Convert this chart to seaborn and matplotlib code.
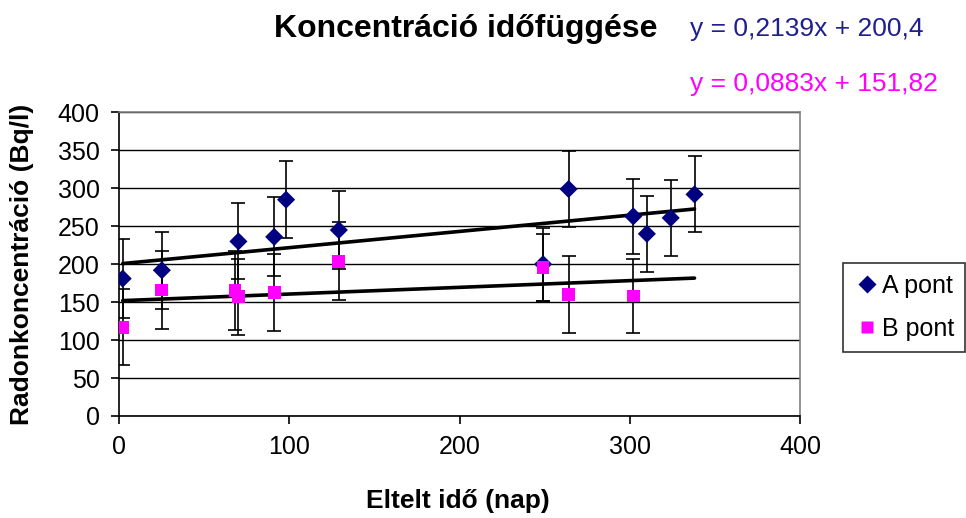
import numpy as np
import pandas as pd
import matplotlib
matplotlib.use("Agg")
import matplotlib.pyplot as plt
import seaborn as sns

# -----------------------------
# DATA
# -----------------------------
a_days = [2, 25, 70, 91, 98, 129, 249, 264, 302, 310, 324, 338]
a_conc = [181, 192, 230, 236, 285, 245, 200, 299, 263, 240, 261, 292]
a_err = [52, 51, 50, 52, 51, 52, 48, 50, 49, 50, 50, 50]

b_days = [2, 25, 68, 70, 91, 129, 249, 264, 302]
b_conc = [117, 166, 165, 157, 163, 204, 196, 160, 158]
b_err = [50, 51, 52, 50, 51, 51, 44, 51, 49]

# trendline coefficients shown on the chart
a_slope, a_icpt = 0.2139, 200.4
b_slope, b_icpt = 0.0883, 151.82

series_names = ["A pont", "B pont"]
series_colors = {"A pont": "#000080", "B pont": "#FF00FF"}
series_markers = {"A pont": "D", "B pont": "s"}

df = pd.concat([
    pd.DataFrame({"nap": a_days, "conc": a_conc, "err": a_err, "pont": "A pont"}),
    pd.DataFrame({"nap": b_days, "conc": b_conc, "err": b_err, "pont": "B pont"}),
], ignore_index=True)

# -----------------------------
# PLOT
# -----------------------------
sns.set_style("white")
plt.rcParams["font.family"] = ["Liberation Sans", "DejaVu Sans"]
plt.rcParams["text.color"] = "black"
plt.rcParams["axes.labelcolor"] = "black"
plt.rcParams["xtick.color"] = "black"
plt.rcParams["ytick.color"] = "black"

fig = plt.figure(figsize=(9.66, 5.18), dpi=100)
ax = fig.add_axes([0.1235, 0.197, 0.7047, 0.586])

# error bars first, then markers on top
for name in series_names:
    sub = df[df["pont"] == name]
    ax.errorbar(sub["nap"], sub["conc"], yerr=sub["err"], fmt="none",
                ecolor="black", elinewidth=1.2, capsize=5, capthick=1.2, zorder=3)

# linear trendlines over the measured time span
x_line = np.array([df["nap"].min(), df["nap"].max()])
trend = pd.DataFrame({
    "nap": np.concatenate([x_line, x_line]),
    "conc": np.concatenate([a_slope * x_line + a_icpt, b_slope * x_line + b_icpt]),
    "pont": ["A pont"] * 2 + ["B pont"] * 2,
})
sns.lineplot(data=trend, x="nap", y="conc", units="pont", estimator=None,
             color="black", linewidth=2.6, ax=ax, zorder=4, legend=False)

sns.scatterplot(data=df, x="nap", y="conc", hue="pont", style="pont",
                palette=series_colors, markers=series_markers,
                s=85, edgecolor="none", ax=ax, zorder=5)

ax.set_xlim(0, 400)
ax.set_ylim(0, 400)
ax.set_xticks(range(0, 401, 100))
ax.set_yticks(range(0, 401, 50))
ax.yaxis.grid(True, color="black", linewidth=1)
ax.xaxis.grid(False)
ax.set_axisbelow(True)

for side in ["top", "right"]:
    ax.spines[side].set_color("#808080")
    ax.spines[side].set_linewidth(1.2)
for side in ["left", "bottom"]:
    ax.spines[side].set_color("black")
    ax.spines[side].set_linewidth(1.2)

ax.tick_params(axis="both", direction="out", length=6, width=1.2,
               color="black", labelcolor="black", labelsize=18, left=True, bottom=True, pad=8)

ax.set_xlabel("Eltelt idő (nap)", fontsize=19, fontweight="bold", color="black")
ax.set_ylabel("Radonkoncentráció (Bq/l)", fontsize=19, fontweight="bold", color="black")
ax.xaxis.set_label_coords(0.4976, -0.24)
ax.yaxis.set_label_coords(-0.125, 0.5)

# legend outside the plot area, square black frame
handles, labels = ax.get_legend_handles_labels()
leg = ax.legend(handles, labels, loc="upper left", bbox_to_anchor=(1.063, 0.504),
                frameon=True, fancybox=False, shadow=False, fontsize=18,
                handletextpad=0.1, handlelength=1.0, borderpad=0.45,
                labelspacing=0.75, borderaxespad=0)
leg.get_frame().set_edgecolor("black")
leg.get_frame().set_linewidth(1.2)
for t in leg.get_texts():
    t.set_color("black")

# title and trendline equations
fig.text(466 / 966, 1 - 29 / 518, "Koncentráció időfüggése", ha="center", va="center",
         fontsize=23, fontweight="bold", color="black")
fig.text(690 / 966, 1 - 29 / 518, "y = 0,2139x + 200,4", ha="left", va="center",
         fontsize=19, color="#1F1F8F")
fig.text(690 / 966, 1 - 84 / 518, "y = 0,0883x + 151,82", ha="left", va="center",
         fontsize=19, color="#FF00FF")

fig.savefig("out.png", dpi=100)
